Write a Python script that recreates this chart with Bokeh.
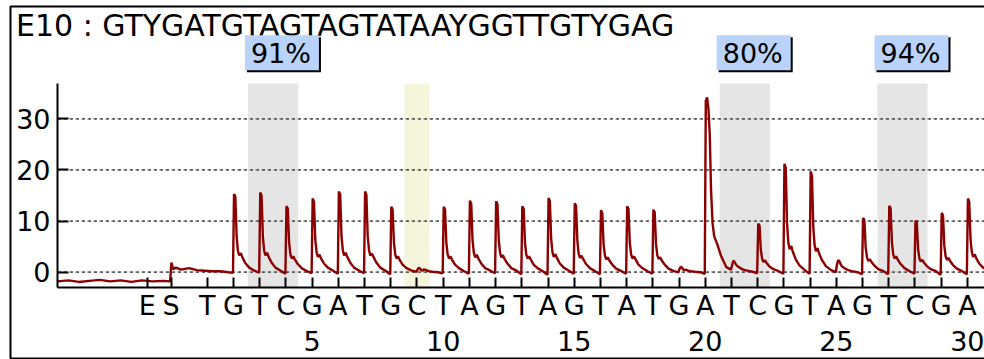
from bokeh.plotting import figure
from bokeh.models import (FixedTicker, LinearAxis, Label, BoxAnnotation, Range1d,
                          ColumnDataSource)
from bokeh.embed import file_html
from bokeh.resources import INLINE

# ---------------- data ----------------
title_text = "E10 : GTYGATGTAGTAGTATAAYGGTTGTYGAG"
disp_labels = ["E", "S"] + list("TGTCGATGCTAGTAGTATGATCGTAGTCGA")
disp_pos = [-1.29, -0.38] + list(range(1, 31))
number_ticks = [5, 10, 15, 20, 25, 30]
y_ticks = [0, 10, 20, 30]

band_left = [2.55, 20.55, 26.57]
band_right = [4.47, 22.47, 28.48]
band_pct = ["91%", "80%", "94%"]
blank_left = [8.52]
blank_right = [9.48]

# signal before the first nucleotide (baseline, E and S dispensations)
pre_x = [-4.72, -4.3, -3.9, -3.5, -3.1, -2.7, -2.3, -1.9, -1.5, -1.1, -0.7, -0.42,
         -0.37, -0.3, -0.2, 0.0, 0.3, 0.6, 0.9, 1.2, 1.5, 1.8]
pre_y = [-1.8, -1.6, -1.9, -1.7, -1.5, -1.8, -1.6, -1.9, -1.6, -1.8, -1.7, -1.8,
         1.9, 0.6, 0.9, 0.5, 0.8, 0.4, 0.3, 0.2, 0.2, 0.0]

# sample offsets (in dispensations) after each dispensation, and the signal read there
peak_offsets = [-0.02, 0.02, 0.07, 0.12, 0.17, 0.22, 0.28, 0.34, 0.45, 0.60, 0.80]
peak_disp = list(range(2, 31))
peak_rows = [
    [-0.1, 15.3, 14.8, 6.9, 4.1, 3.3, 3.7, 2.9, 1.8, 0.9, 0.3],   # 2 G
    [-0.1, 15.6, 15.0, 7.0, 4.2, 3.3, 3.8, 3.0, 1.9, 0.9, 0.3],   # 3 T
    [-0.3, 12.9, 12.5, 5.9, 3.5, 2.7, 3.1, 2.5, 1.6, 0.8, 0.2],   # 4 C
    [-0.2, 14.4, 13.8, 6.4, 3.9, 3.0, 3.4, 2.7, 1.7, 0.9, 0.3],   # 5 G
    [-0.3, 15.8, 15.2, 7.1, 4.3, 3.3, 3.8, 3.0, 1.9, 0.9, 0.3],   # 6 A
    [-0.2, 15.8, 15.1, 7.1, 4.3, 3.3, 3.6, 3.0, 1.9, 0.9, 0.3],   # 7 T
    [-0.4, 12.8, 12.3, 5.8, 3.5, 2.7, 3.1, 2.4, 1.5, 0.8, 0.3],   # 8 G
    [0.1, 0.5, 0.9, 0.7, 0.4, 0.3, 0.6, 0.4, 0.2, 0.1, 0.0],      # 9 C
    [-0.2, 12.8, 12.3, 5.8, 3.5, 2.7, 3.1, 2.4, 1.5, 0.8, 0.2],   # 10 T
    [-0.3, 14.0, 13.4, 6.3, 3.8, 2.9, 3.4, 2.7, 1.7, 0.8, 0.3],   # 11 A
    [-0.2, 13.9, 13.3, 6.3, 3.8, 2.9, 3.3, 2.6, 1.7, 0.8, 0.3],   # 12 G
    [-0.4, 12.9, 12.4, 5.8, 3.5, 2.7, 3.1, 2.5, 1.5, 0.8, 0.2],   # 13 T
    [-0.5, 14.5, 13.9, 6.5, 3.9, 3.0, 3.5, 2.8, 1.7, 0.9, 0.3],   # 14 A
    [-0.3, 13.5, 13.0, 6.1, 3.6, 2.8, 3.2, 2.6, 1.6, 0.8, 0.2],   # 15 G
    [-0.4, 12.1, 11.6, 5.4, 3.3, 2.5, 2.9, 2.3, 1.5, 0.7, 0.2],   # 16 T
    [-0.3, 12.9, 12.4, 5.8, 3.5, 2.7, 3.1, 2.5, 1.5, 0.8, 0.2],   # 17 A
    [-0.3, 12.2, 11.7, 5.5, 3.3, 2.6, 2.9, 2.3, 1.5, 0.7, 0.2],   # 18 T
    [0.0, 0.7, 1.1, 0.8, 0.5, 0.4, 0.5, 0.3, 0.2, 0.1, 0.0],      # 19 G
    [-0.3, 33.5, 34.2, 32.0, 27.0, 16.0, 9.5, 7.0, 5.6, 3.2, 1.0],  # 20 A
    [0.5, 1.3, 2.3, 2.0, 1.5, 1.2, 1.0, 0.8, 0.5, 0.3, 0.1],      # 21 T
    [-0.2, 9.5, 9.1, 4.3, 2.6, 2.0, 2.3, 1.8, 1.1, 0.6, 0.2],     # 22 C
    [-0.3, 21.2, 20.4, 9.5, 5.7, 4.5, 5.1, 4.0, 2.5, 1.3, 0.4],   # 23 G
    [-0.3, 19.7, 18.9, 8.9, 5.3, 4.1, 4.7, 3.7, 2.4, 1.2, 0.4],   # 24 T
    [0.0, 1.4, 2.4, 2.1, 1.5, 1.1, 0.9, 0.7, 0.4, 0.2, 0.0],      # 25 A
    [-0.4, 10.6, 10.2, 4.8, 2.9, 2.2, 2.5, 2.0, 1.3, 0.6, 0.2],   # 26 G
    [-0.4, 13.0, 12.5, 5.9, 3.5, 2.7, 3.1, 2.5, 1.6, 0.8, 0.2],   # 27 T
    [-0.3, 10.1, 9.7, 4.5, 2.7, 2.1, 2.4, 1.9, 1.2, 0.6, 0.2],    # 28 C
    [-0.5, 11.6, 11.1, 5.2, 3.1, 2.4, 2.8, 2.2, 1.4, 0.7, 0.2],   # 29 G
    [-0.4, 14.4, 13.8, 6.5, 3.9, 3.0, 3.5, 2.7, 1.7, 0.9, 0.3],   # 30 A
]

# ---------------- build ----------------
trace_x = list(pre_x)
trace_y = list(pre_y)
for d, row in zip(peak_disp, peak_rows):
    for o, v in zip(peak_offsets, row):
        trace_x.append(d + o)
        trace_y.append(v)

FONT = "DejaVu Sans"
X0, X1 = -4.715, 30.65     # plotted dispensation span
Y0, Y1 = -2.99, 36.9       # plotted signal span

p = figure(width=984, height=359,
           x_range=Range1d(-6.89, 30.653), y_range=Range1d(-17.07, 53.14),
           x_axis_type=None, y_axis_type=None,
           output_backend="svg", toolbar_location=None,
           min_border_left=0, min_border_right=0, min_border_top=0, min_border_bottom=0)
p.outline_line_color = None
p.background_fill_color = "white"
p.border_fill_color = "white"

# shaded bands
bands = ColumnDataSource(dict(left=band_left, right=band_right,
                              top=[Y1] * len(band_left), bottom=[Y0] * len(band_left)))
p.quad(left="left", right="right", top="top", bottom="bottom", source=bands,
       fill_color="#e5e5e5", line_color=None)
blanks = ColumnDataSource(dict(left=blank_left, right=blank_right,
                               top=[Y1] * len(blank_left), bottom=[Y0] * len(blank_left)))
p.quad(left="left", right="right", top="top", bottom="bottom", source=blanks,
       fill_color="#f5f5dc", line_color=None)

# grid lines (dash-dot look: grey dashes + black dots)
gsrc = ColumnDataSource(dict(x0=[X0] * len(y_ticks), x1=[X1] * len(y_ticks), y=y_ticks))
p.segment(x0="x0", x1="x1", y0="y", y1="y", source=gsrc,
          line_color="#808080", line_width=1.7, line_dash="3 3")
p.segment(x0="x0", x1="x1", y0="y", y1="y", source=gsrc,
          line_color="#111111", line_width=1.7, line_dash="1 5", line_dash_offset=4)

# trace
p.line(trace_x, trace_y, line_color="#8b0000", line_width=2.4)

# axes
yaxis = LinearAxis(ticker=FixedTicker(ticks=y_ticks), fixed_location=X0, bounds=(Y0, Y1))
yaxis.axis_line_width = 2
yaxis.major_tick_line_width = 2
yaxis.major_tick_in = 11
yaxis.major_tick_out = 0
yaxis.minor_tick_line_color = None
yaxis.major_label_standoff = 7
yaxis.major_label_text_font = FONT
yaxis.major_label_text_font_size = "27px"
yaxis.major_label_text_color = "black"
p.add_layout(yaxis, "left")

xaxis = LinearAxis(ticker=FixedTicker(ticks=disp_pos), fixed_location=Y0, bounds=(X0, X1),
                   major_label_overrides={pos: lab for pos, lab in zip(disp_pos, disp_labels)})
xaxis.axis_line_width = 2
xaxis.major_tick_line_width = 2
xaxis.major_tick_in = 10
xaxis.major_tick_out = 0
xaxis.minor_tick_line_color = None
xaxis.major_label_standoff = 2
xaxis.major_label_text_font = FONT
xaxis.major_label_text_font_size = "27px"
xaxis.major_label_text_color = "black"
p.add_layout(xaxis, "below")

naxis = LinearAxis(ticker=FixedTicker(ticks=number_ticks), fixed_location=-11.02, bounds=(X0, X1))
naxis.axis_line_color = None
naxis.major_tick_line_color = None
naxis.major_tick_in = 0
naxis.major_tick_out = 0
naxis.minor_tick_line_color = None
naxis.major_label_standoff = 2
naxis.major_label_text_font = FONT
naxis.major_label_text_font_size = "27px"
naxis.major_label_text_color = "black"
p.add_layout(naxis, "below")

# title
p.add_layout(Label(x=-6.30, y=48.2, text=title_text, text_font=FONT,
                   text_font_size="30px", text_color="black", text_baseline="alphabetic"))

# percentage boxes (drop shadow + light blue box); padding is (left, right, top, bottom)
for xl, pct in zip(band_left, band_pct):
    p.add_layout(Label(x=xl, y=42.9, x_offset=-1, y_offset=-2, text=pct, text_font=FONT,
                       text_font_size="27px", text_color="black", text_baseline="alphabetic",
                       background_fill_color="black", padding=(6, 8, 3, 1)))
    p.add_layout(Label(x=xl, y=42.9, x_offset=-3, text=pct, text_font=FONT,
                       text_font_size="27px", text_color="black", text_baseline="alphabetic",
                       background_fill_color="#b9d3fa", padding=(6, 8, 3, 1)))

# outer frame
p.add_layout(BoxAnnotation(left=-6.5086, right=32, top=51.967, bottom=-16.876,
                           fill_color=None, fill_alpha=0, line_color="black",
                           line_alpha=1.0, line_width=2))

open("out.html", "w").write(file_html(p, INLINE))
